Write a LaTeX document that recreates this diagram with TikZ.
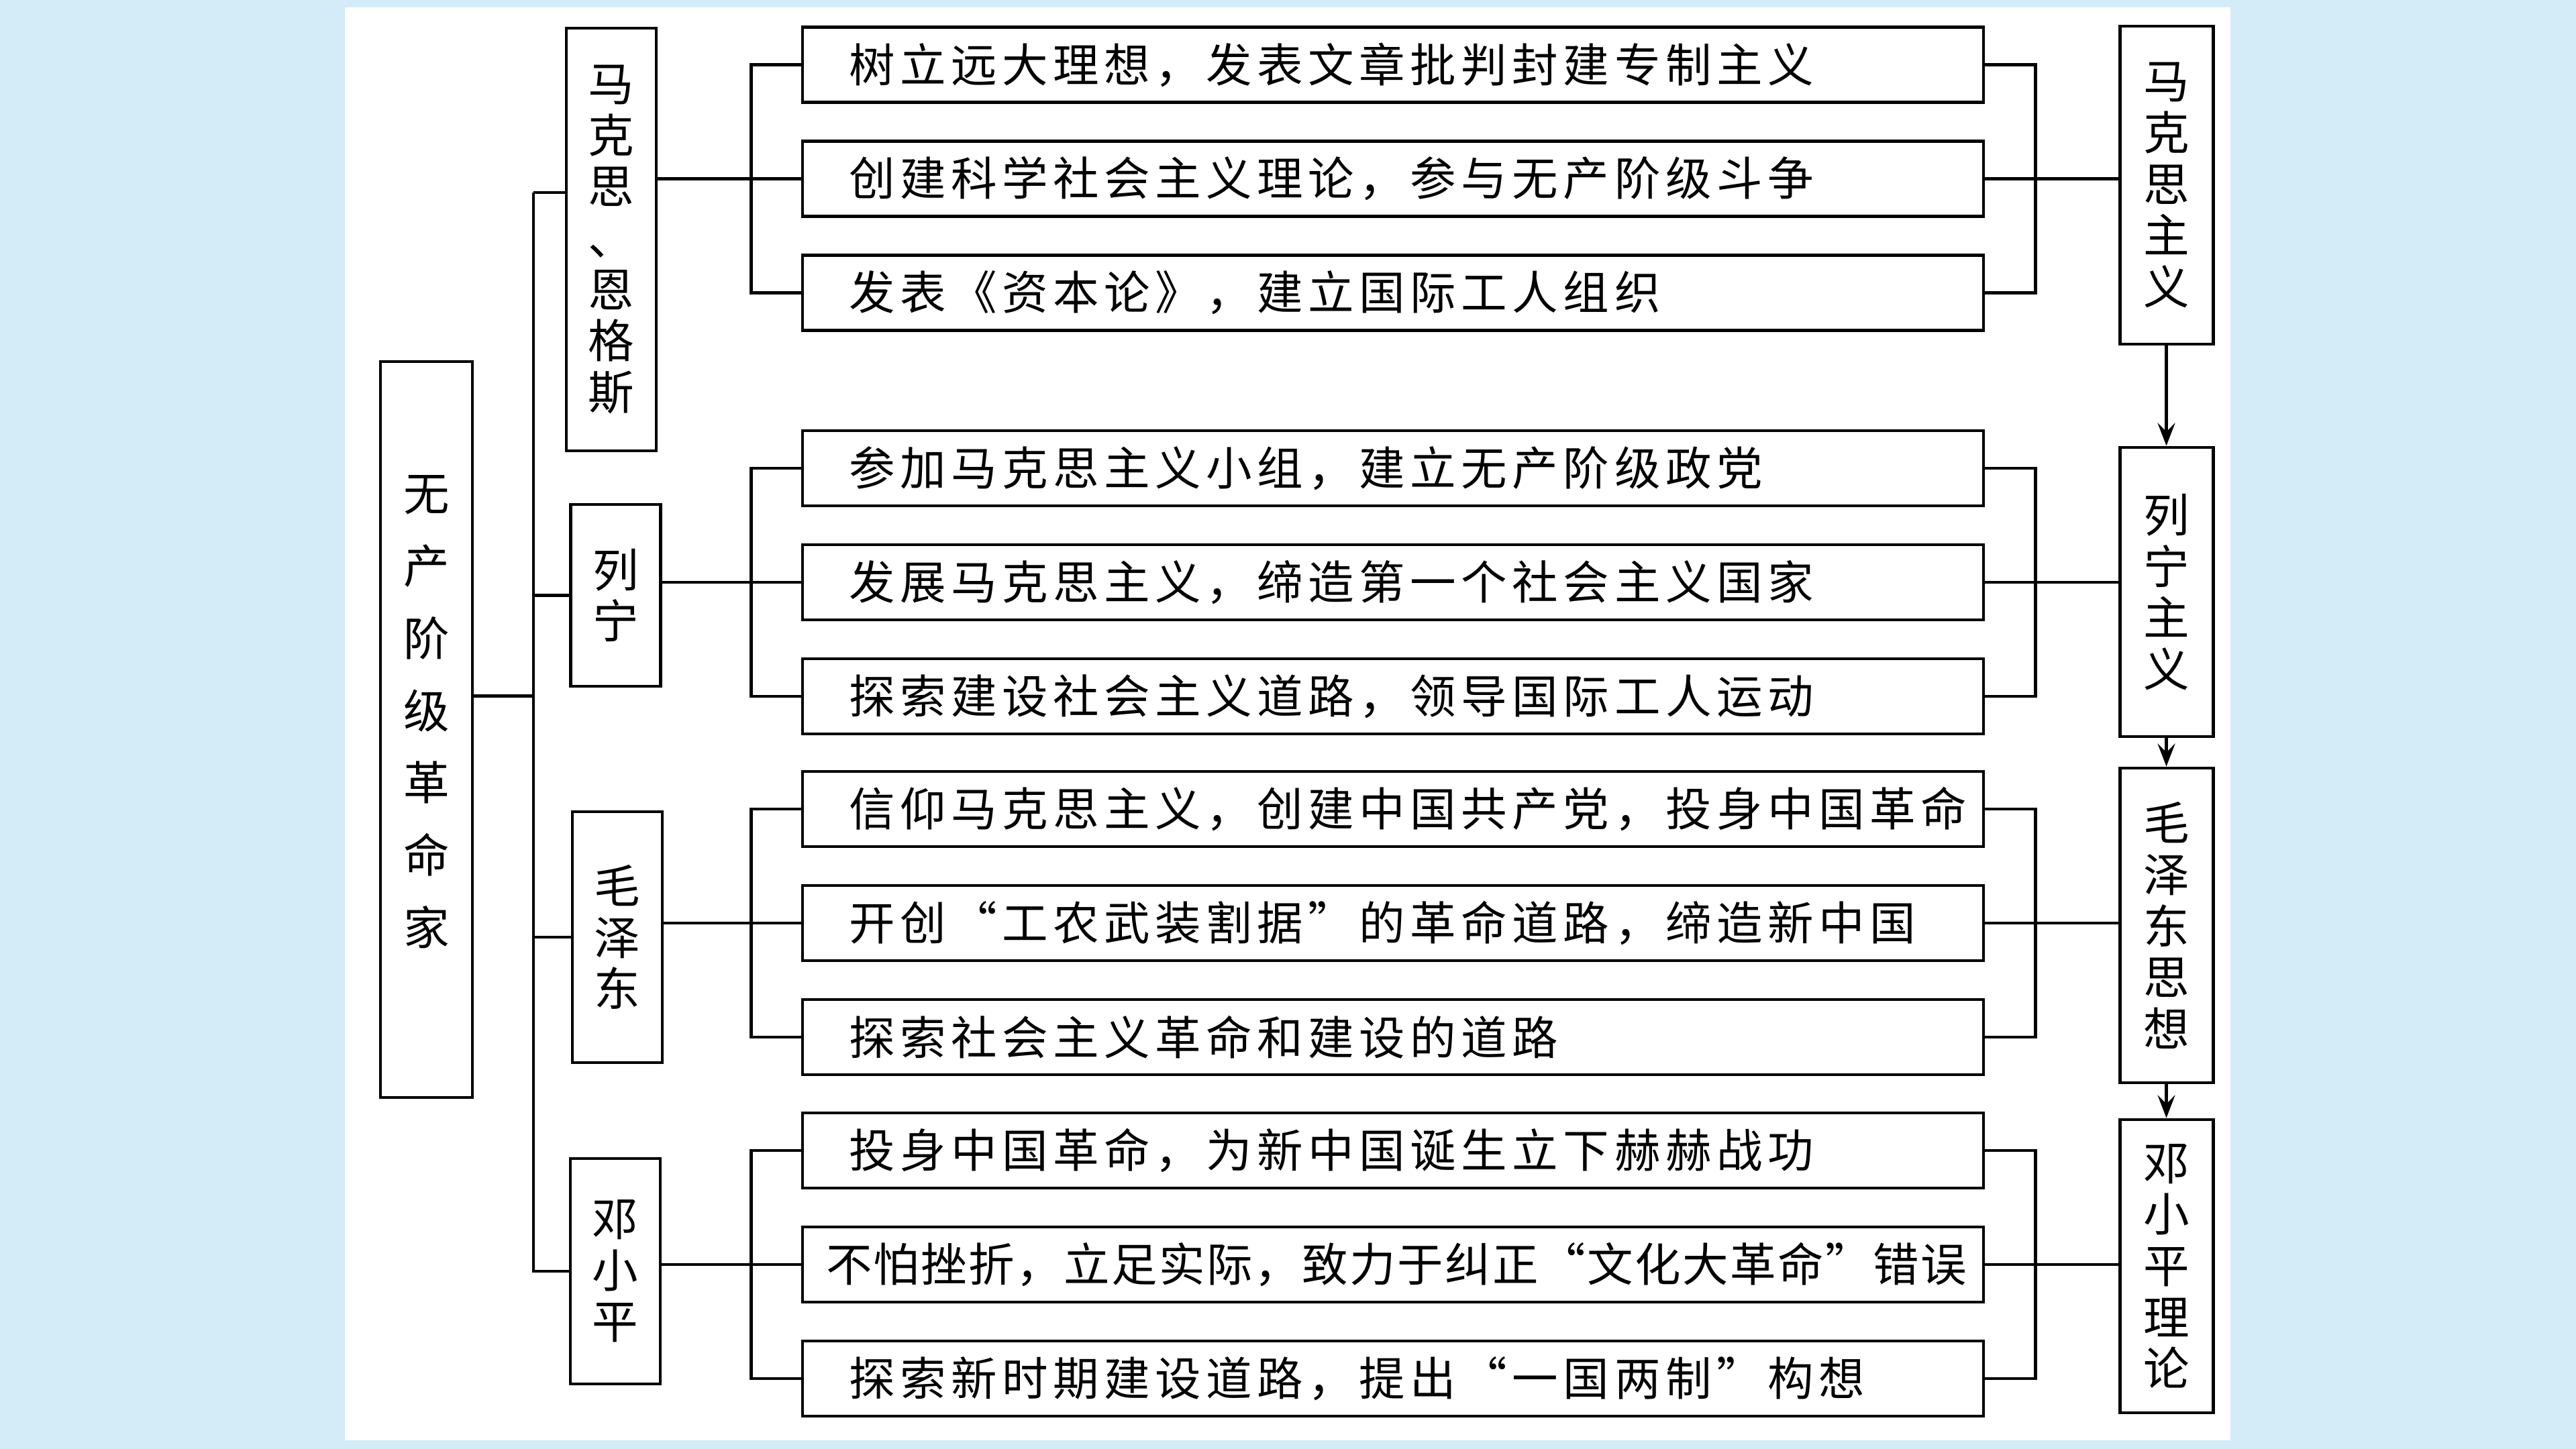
\documentclass[tikz,border=0pt]{standalone}
\usepackage{fontspec}
\usetikzlibrary{arrows.meta}
\newfontfamily\cjk[LetterSpace=11]{Noto Sans CJK SC}
\newfontfamily\cjktight[LetterSpace=3.5]{Noto Sans CJK SC}
\newfontfamily\cjkv{Noto Sans CJK SC}
\definecolor{paper}{RGB}{212,236,247}

\begin{document}
\begin{tikzpicture}[
            item/.style={rectangle, draw, line width=1.4pt, minimum width=17.6cm, minimum height=1.12cm,
                text width=16.22cm, inner xsep=0.69cm, inner ysep=0pt, align=left,
                font=\cjk\fontsize{19.5}{23}\selectfont},
            person/.style={rectangle, draw, line width=1.4pt, minimum width=1.34cm, inner sep=0pt,
                align=center, font=\cjkv\fontsize{19.5}{21.8}\selectfont},
            theory/.style={person, minimum width=1.39cm},
            root/.style={person, minimum width=1.37cm, font=\cjkv\fontsize{19.5}{30.7}\selectfont},
            link/.style={line width=1.2pt},
            flow/.style={line width=1.2pt, -{Stealth[length=3.4mm, width=2.6mm, inset=1.3mm]}}
        ]
            % Background and white sheet
            \fill[paper] (0,0) rectangle (38.39,-21.6);
            \fill[white] (5.14,-0.11) rectangle (33.24,-21.47);
            \useasboundingbox (0,0) rectangle (38.39,-21.6);

            % Nodes: root and persons
            \node[root, minimum height=10.97cm] (main) at (6.355,-10.875) {无\\产\\阶\\级\\革\\命\\家\\[-0.5cm]};
            \node[person, minimum height=6.30cm] (mae) at (9.11,-3.57) {马\\克\\思\\、\\恩\\格\\斯};
            \node[person, minimum height=2.71cm] (lenin) at (9.175,-8.875) {列\\宁};
            \node[person, minimum height=3.74cm] (mao) at (9.20,-13.97) {毛\\泽\\东};
            \node[person, minimum height=3.36cm] (deng) at (9.17,-18.95) {邓\\小\\平};

            % Nodes: deeds
            \node[item] (i11) at (20.76,-0.965) {树立远大理想，发表文章批判封建专制主义};
            \node[item, below of = i11, yshift = -0.70cm] (i12) {创建科学社会主义理论，参与无产阶级斗争};
            \node[item, below of = i12, yshift = -0.70cm] (i13) {发表《资本论》，建立国际工人组织};

            \node[item] (i21) at (20.76,-6.98) {参加马克思主义小组，建立无产阶级政党};
            \node[item, below of = i21, yshift = -0.70cm] (i22) {发展马克思主义，缔造第一个社会主义国家};
            \node[item, below of = i22, yshift = -0.70cm] (i23) {探索建设社会主义道路，领导国际工人运动};

            \node[item] (i31) at (20.76,-12.06) {信仰马克思主义，创建中国共产党，投身中国革命};
            \node[item, below of = i31, yshift = -0.70cm] (i32) {开创“工农武装割据”的革命道路，缔造新中国};
            \node[item, below of = i32, yshift = -0.70cm] (i33) {探索社会主义革命和建设的道路};

            \node[item] (i41) at (20.76,-17.15) {投身中国革命，为新中国诞生立下赫赫战功};
            \node[item, below of = i41, yshift = -0.70cm, text width=16.9cm, inner xsep=0.35cm,
                font=\cjktight\fontsize{19.5}{23}\selectfont] (i42) {不怕挫折，立足实际，致力于纠正“文化大革命”错误};
            \node[item, below of = i42, yshift = -0.70cm] (i43) {探索新时期建设道路，提出“一国两制”构想};

            % Nodes: theories
            \node[theory, minimum height=4.74cm] (marxism) at (32.285,-2.76) {马\\克\\思\\主\\义};
            \node[theory, minimum height=4.31cm] (leninism) at (32.285,-8.825) {列\\宁\\主\\义};
            \node[theory, minimum height=4.69cm] (maothought) at (32.285,-13.795) {毛\\泽\\东\\思\\想};
            \node[theory, minimum height=4.37cm] (dengtheory) at (32.285,-18.875) {邓\\小\\平\\理\\论};

            % Paths: root to persons
            \coordinate (t1) at (7.95,-2.87);
            \draw[link] ([yshift=0.5cm]main.east) -- ([yshift=0.5cm]main.east -| t1);
            \draw[link] (t1) -- (t1 -| mae.west);
            \draw[link] (t1) |- (deng.west);
            \draw[link] (lenin.west -| t1) -- (lenin.west);
            \draw[link] (mao.west -| t1) -- (mao.west);

            % Paths: persons to deeds to theories
            \foreach \g/\p/\t in {1/mae/marxism, 2/lenin/leninism, 3/mao/maothought, 4/deng/dengtheory} {
                \draw[link] (i\g1.west) -- ++(-0.74,0) |- (i\g3.west);
                \draw[link] (i\g2.west -| \p.east) -- (i\g2.west);
                \draw[link] (i\g1.east) -- ++(0.75,0) |- (i\g3.east);
                \draw[link] (i\g2.east) -- (i\g2.east -| \t.west);
            }

            % Paths: theory line
            \draw[flow] (marxism.south) -- (leninism.north);
            \draw[flow] (leninism.south) -- (maothought.north);
            \draw[flow] (maothought.south) -- (dengtheory.north);
        \end{tikzpicture}
\end{document}
